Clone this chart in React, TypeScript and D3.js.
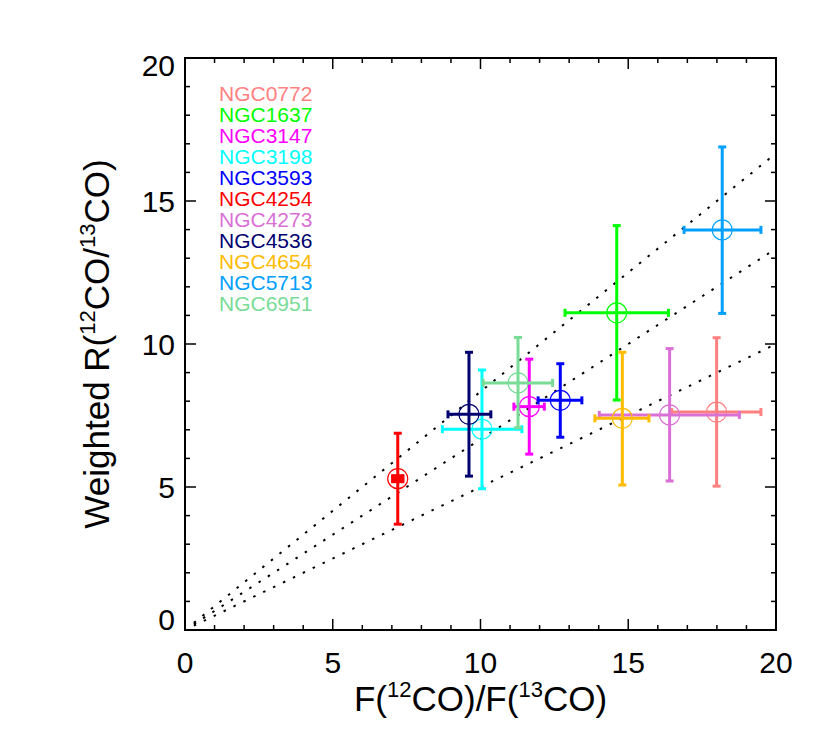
import React from 'react';
import * as d3 from 'd3';

const GALAXIES = ['NGC0772', 'NGC1637', 'NGC3147', 'NGC3198', 'NGC3593', 'NGC4254', 'NGC4273', 'NGC4536', 'NGC4654', 'NGC5713', 'NGC6951'];
const COLORS = ['#FF8080', '#00FF00', '#FF00FF', '#00FFFF', '#0000FF', '#FF0000', '#DA70D6', '#000070', '#FFBB00', '#00A0FF', '#78DC96'];
const X_VALUES = [17.99, 14.61, 11.65, 10.05, 12.70, 7.20, 16.40, 9.61, 14.80, 18.18, 11.27];
const X_LOW = [16.47, 12.86, 11.13, 8.71, 11.95, 7.03, 14.02, 8.90, 13.87, 16.89, 10.09];
const X_HIGH = [19.49, 16.36, 12.16, 11.40, 13.43, 7.37, 18.76, 10.35, 15.70, 19.49, 12.44];
const Y_VALUES = [7.62, 11.09, 7.81, 7.02, 8.03, 5.29, 7.52, 7.54, 7.40, 13.99, 8.64];
const Y_LOW = [5.03, 8.04, 6.15, 4.94, 6.74, 3.70, 5.21, 5.38, 5.07, 11.07, 7.07];
const Y_HIGH = [10.22, 14.14, 9.47, 9.09, 9.31, 6.88, 9.84, 9.71, 9.71, 16.89, 10.23];
const FILLED = ['NGC4254'];
const RATIO_LINES = [1.2, 1.5, 2.0];
const LINE_X_RANGE = [0.3, 19.9];
const X_TICKS = [0, 5, 10, 15, 20];
const Y_TICKS = [0, 5, 10, 15, 20];
const MINOR_TICKS = d3.range(0, 21, 1);

const W = 830, H = 748;
const M = { left: 185, right: 54, top: 58, bottom: 118 };
const FONT = '"Liberation Sans", Arial, Helvetica, sans-serif';

export default function App() {
  const x = d3.scaleLinear().domain([0, 20]).range([M.left, W - M.right]);
  const y = d3.scaleLinear().domain([0, 20]).range([H - M.bottom, M.top]);
  const x0 = x(0), x1 = x(20), y0 = y(0), y1 = y(20);
  const line = d3.line<number>().x(d => x(d[0])).y(d => y(d[1]));
  const cap = 4;
  const tickFs = 30;

  return (
    <svg width={W} height={H} style={{ display: 'block', background: '#fff' }} fontFamily={FONT}>
      <style>{'body{margin:0}'}</style>
      {RATIO_LINES.map((r, i) => (
        <path key={'l' + i}
          d={line(LINE_X_RANGE.map(v => [v, v / r]) as any) || ''}
          stroke="#000" strokeWidth={2} strokeDasharray="2.5 8.5" fill="none" />
      ))}
      {GALAXIES.map((g, i) => {
        const c = COLORS[i];
        const cx = x(X_VALUES[i]), cy = y(Y_VALUES[i]);
        const xl = x(X_LOW[i]), xh = x(X_HIGH[i]);
        const yl = y(Y_LOW[i]), yh = y(Y_HIGH[i]);
        return (
          <g key={g} stroke={c} strokeWidth={3} fill="none">
            <line x1={xl} x2={xh} y1={cy} y2={cy} />
            <line x1={xl} x2={xl} y1={cy - cap} y2={cy + cap} />
            <line x1={xh} x2={xh} y1={cy - cap} y2={cy + cap} />
            <line x1={cx} x2={cx} y1={yl} y2={yh} />
            <line x1={cx - cap} x2={cx + cap} y1={yl} y2={yl} />
            <line x1={cx - cap} x2={cx + cap} y1={yh} y2={yh} />
            <circle cx={cx} cy={cy} r={10} strokeWidth={1.2} />
            {FILLED.includes(g) && (
              <rect x={xl - 1.5} y={cy - 4.5} width={xh - xl + 3} height={9} fill={c} stroke="none" />
            )}
          </g>
        );
      })}
      <rect x={x0} y={y1} width={x1 - x0} height={y0 - y1} fill="none" stroke="#000" strokeWidth={2} />
      {MINOR_TICKS.map(v => {
        const major = v % 5 === 0;
        const len = major ? 11 : 5;
        return (
          <g key={'t' + v} stroke="#000" strokeWidth={1.5}>
            <line x1={x(v)} x2={x(v)} y1={y0} y2={y0 - len} />
            <line x1={x(v)} x2={x(v)} y1={y1} y2={y1 + len} />
            <line x1={x0} x2={x0 + len} y1={y(v)} y2={y(v)} />
            <line x1={x1} x2={x1 - len} y1={y(v)} y2={y(v)} />
          </g>
        );
      })}
      {X_TICKS.map(v => (
        <text key={'xl' + v} x={x(v)} y={y0 + 43} textAnchor="middle" fontSize={tickFs}>{v}</text>
      ))}
      {Y_TICKS.map(v => {
        const half = 0.36 * tickFs;
        const cy = Math.min(Math.max(y(v), y1 + half - 4), y0 - half);
        return (
          <text key={'yl' + v} x={x0 - 10} y={cy + half} textAnchor="end" fontSize={tickFs}>{v}</text>
        );
      })}
      {GALAXIES.map((g, i) => (
        <text key={'lg' + g} x={x0 + 34} y={100.5 + i * 21.07} fontSize={21} fill={COLORS[i]}>{g}</text>
      ))}
      <text x={(x0 + x1) / 2} y={711} textAnchor="middle" fontSize={35}>
        F(<tspan fontSize={22} dy={-14}>12</tspan><tspan dy={14}>CO)/F(</tspan><tspan fontSize={22} dy={-14}>13</tspan><tspan dy={14}>CO)</tspan>
      </text>
      <text transform={`translate(109,${(y0 + y1) / 2}) rotate(-90)`} textAnchor="middle" fontSize={35}>
        Weighted R(<tspan fontSize={22} dy={-14}>12</tspan><tspan dy={14}>CO/</tspan><tspan fontSize={22} dy={-14}>13</tspan><tspan dy={14}>CO)</tspan>
      </text>
    </svg>
  );
}
